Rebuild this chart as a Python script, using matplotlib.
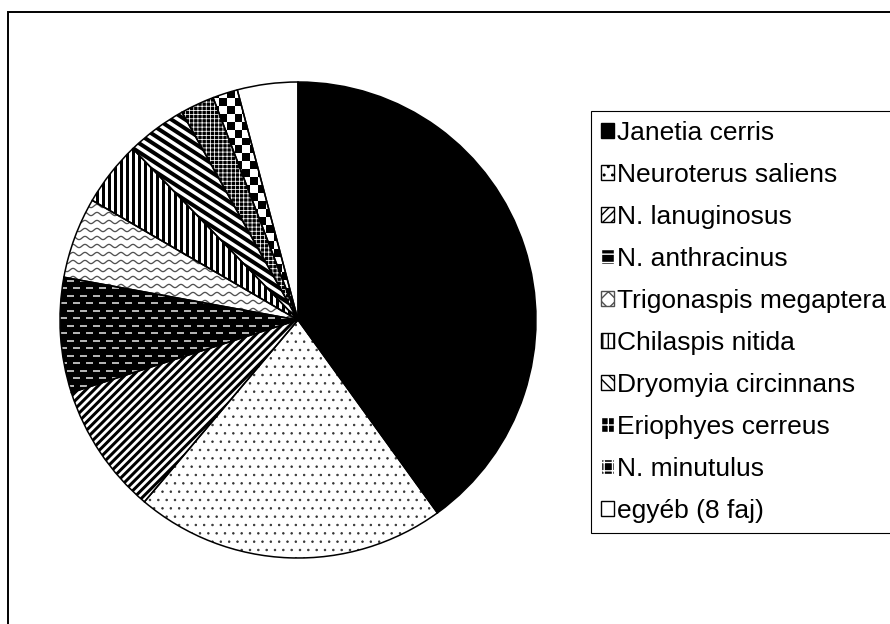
import matplotlib
matplotlib.use('Agg')
import matplotlib.pyplot as plt
import numpy as np
from matplotlib.collections import LineCollection
from matplotlib.patches import Patch, Rectangle

plt.rcParams['font.family'] = ['Liberation Sans', 'DejaVu Sans']

species = ['Janetia cerris', 'Neuroterus saliens', 'N. lanuginosus', 'N. anthracinus',
           'Trigonaspis megaptera', 'Chilaspis nitida', 'Dryomyia circinnans',
           'Eriophyes cerreus', 'N. minutulus', 'egyéb (8 faj)']
shares = [40.0, 21.1, 8.9, 7.8, 5.5, 4.4, 4.1, 2.3, 1.7, 4.1]

W, H = 890, 624
R = 238          # pie radius in pixels
cx, cy = 298, 320
pad = 1.02
px = 1.0 / R     # one pixel in data units


def stripes(ax, clip, angle, step, lw, color='black'):
    t = np.deg2rad(angle)
    d = np.array([np.cos(t), np.sin(t)])
    n = np.array([-np.sin(t), np.cos(t)])
    segs = [[o * n - 1.6 * d, o * n + 1.6 * d] for o in np.arange(-1.6, 1.6, step * px)]
    lc = LineCollection(segs, colors=color, linewidths=lw * 0.72, zorder=1.5)
    ax.add_collection(lc, autolim=False)
    lc.set_clip_path(clip)


fig = plt.figure(figsize=(W / 100, H / 100), dpi=100)
side = 2 * pad * R
ax = fig.add_axes([(cx - pad * R) / W, (H - cy - pad * R) / H, side / W, side / H])

face = ['black', 'white', 'white', 'black', 'white', 'white', 'white', 'black', 'white', 'white']
hcol = ['black', '#333333', 'black', 'white', 'black', 'black', 'black', 'white', 'black', 'black']
hatch = [None, '..', None, None, None, None, None, '++++', None, None]

wedges, _ = ax.pie(shares, startangle=90, counterclock=False, colors=face,
                   wedgeprops=dict(linewidth=0))
for w, ec, h in zip(wedges, hcol, hatch):
    w.set_edgecolor(ec)
    if h:
        w.set_hatch(h)
        if hasattr(w, 'set_hatch_linewidth'):
            w.set_hatch_linewidth(0.55)

# N. lanuginosus: diagonal stripes
stripes(ax, wedges[2], 45, 5.8, 3.0)
# Chilaspis nitida: vertical stripes
stripes(ax, wedges[5], 90, 6.0, 3.0)
# Dryomyia circinnans: steep backslash stripes
stripes(ax, wedges[6], -33, 7.5, 4.0)

# N. anthracinus: white brick dashes on black
segs = []
for k, y0 in enumerate(np.arange(-1, 1, 7.5 * px)):
    for x0 in np.arange(-1 + (k % 2) * 6.5 * px, 1, 13 * px):
        segs.append([(x0, y0), (x0 + 7 * px, y0)])
lc = LineCollection(segs, colors='#e0e0e0', linewidths=1.6 * 0.72, zorder=1.5)
ax.add_collection(lc, autolim=False)
lc.set_clip_path(wedges[3])

# Trigonaspis megaptera: grey waves
xs = np.linspace(-1, 1, 1200)
waves = [np.column_stack([xs, y0 + 1.6 * px * np.sin(2 * np.pi * xs / (12 * px))])
         for y0 in np.arange(-1, 1, 8 * px)]
lc = LineCollection(waves, colors='#505050', linewidths=1.3 * 0.72, zorder=1.5)
ax.add_collection(lc, autolim=False)
lc.set_clip_path(wedges[4])

# N. minutulus: checkerboard
n = 60
ii, jj = np.indices((n, n))
im = ax.imshow((ii + jj) % 2, cmap='gray', extent=(-1, 1, -1, 1),
               interpolation='nearest', zorder=1.5)
im.set_clip_path(wedges[8])

# outlines on top
ax.pie(shares, startangle=90, counterclock=False,
       wedgeprops=dict(fill=False, edgecolor='black', linewidth=1.1, zorder=3))

ax.set_xlim(-pad, pad)
ax.set_ylim(-pad, pad)
ax.set_aspect('equal')
ax.axis('off')

handles = [
    Patch(facecolor='black', edgecolor='black'),
    Patch(facecolor='white', edgecolor='black', hatch='..'),
    Patch(facecolor='white', edgecolor='black', hatch='////'),
    Patch(facecolor='black', edgecolor='white', hatch='--'),
    Patch(facecolor='white', edgecolor='#505050', hatch='xx'),
    Patch(facecolor='white', edgecolor='black', hatch='|||'),
    Patch(facecolor='white', edgecolor='black', hatch='\\\\\\'),
    Patch(facecolor='black', edgecolor='white', hatch='+'),
    Patch(facecolor='black', edgecolor='white', hatch='++'),
    Patch(facecolor='white', edgecolor='black'),
]
leg = fig.legend(handles, species, loc='upper left',
                 bbox_to_anchor=(591 / W, 1 - 111 / H), bbox_transform=fig.transFigure,
                 borderaxespad=0, fontsize=19, handlelength=0.5, handleheight=0.5,
                 handletextpad=0.1, labelspacing=0.68, borderpad=0.38,
                 fancybox=False, framealpha=1, edgecolor='black')
leg.get_frame().set_linewidth(0.8)

# outer chart-area frame (runs off the right and bottom edges)
fig.add_artist(Rectangle((8 / W, -0.1), 2, 1 - 12 / H + 0.1, transform=fig.transFigure,
                         fill=False, edgecolor='black', linewidth=1.4))

fig.savefig('out.png', dpi=100)
